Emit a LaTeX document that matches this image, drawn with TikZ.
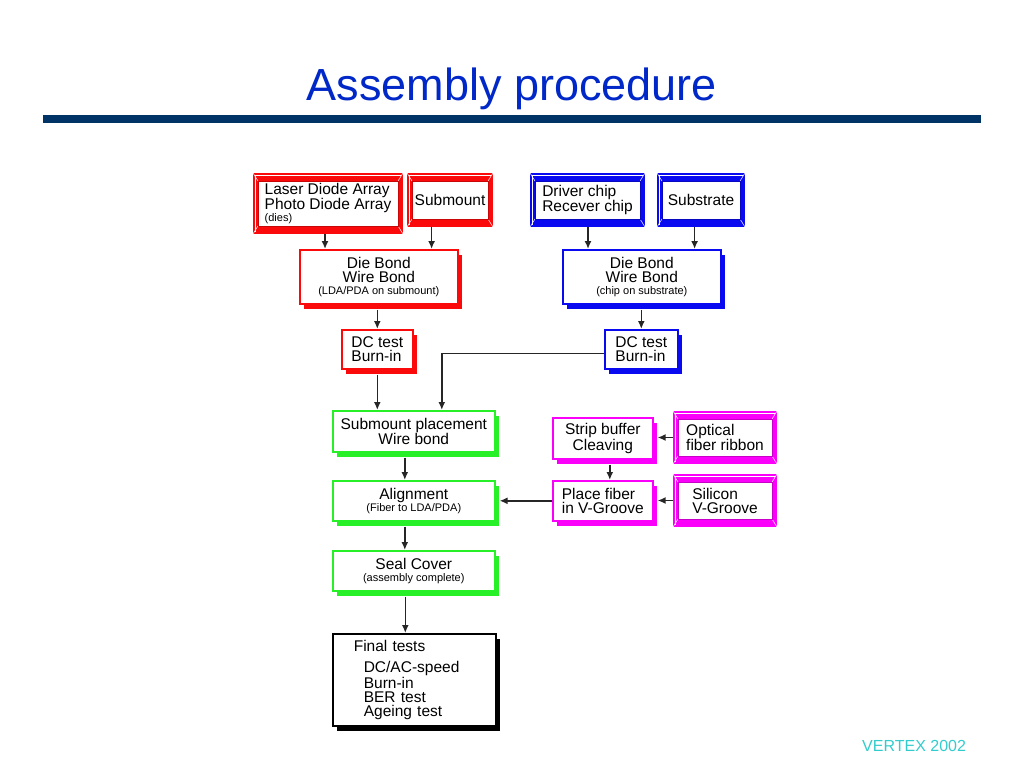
\documentclass[tikz,border=0pt]{standalone}
\usepackage{fontspec}
\setmainfont{Liberation Sans}
\usetikzlibrary{shadows,backgrounds,arrows.meta,positioning}
\definecolor{titleblue}{RGB}{0,40,200}
\definecolor{barblue}{RGB}{0,51,102}
\definecolor{vertex}{RGB}{51,204,204}
\definecolor{fgreen}{RGB}{40,240,40}
\definecolor{fblue}{RGB}{10,10,240}
\definecolor{fred}{RGB}{250,10,10}
\definecolor{fmag}{RGB}{250,0,250}
\newcommand{\boxfont}{\fontsize{15.5}{14}\selectfont}
\newcommand{\smalltxt}{\fontsize{11}{12}\selectfont}
\begin{document}
\begin{tikzpicture}[x=1pt,y=-1pt,
  proc/.style={draw=#1, line width=1.6pt, fill=white, anchor=north west, align=center, inner sep=2pt, font=\boxfont,
    drop shadow={shadow xshift=4pt, shadow yshift=-5pt, fill=#1, opacity=1}},
  part/.style={draw=#1!80!black, line width=0.6pt, fill=white, anchor=north west, align=left, inner sep=2pt, font=\boxfont, outer xsep=5pt, outer ysep=8pt},
  wh/.style 2 args={minimum width=#1pt, minimum height=#2pt},
  arr/.style={->, >={Latex[length=8pt,width=7pt]}, line width=1.6pt, black!85},
  arrs/.style={arr, shorten <=5pt}]
\useasboundingbox (0,0) rectangle (1024,768);
\node[font=\fontsize{45}{45}\selectfont, text=titleblue, anchor=base] (title) at (512,100) {Assembly procedure};
\fill[barblue] (43,115) rectangle (981,123);
\node[font=\fontsize{16}{16}\selectfont, text=vertex, anchor=base west, inner sep=0pt] (foot) at (862,751) {VERTEX 2002};
\node[part=fred, wh={140}{38}] (lda) at (253,173) {Laser Diode Array\\Photo Diode Array\\[-2pt]{\smalltxt (dies)}};
\node[part=fred, wh={76}{38}] (sub) at (407,173) {Submount};
\node[part=fblue, wh={105}{38}] (drv) at (530,173) {Driver chip\\Recever chip};
\node[part=fblue, wh={78}{38}] (sst) at (657,173) {Substrate};
\node[part=fmag, wh={94}{37}] (ofr) at (673,411) {Optical\\fiber ribbon};
\node[part=fmag, wh={94}{37}] (svg) at (673,474) {Silicon\\V-Groove};
\node[proc=fred, wh={158}{54}] (dbr) at (299,249) {Die Bond\\Wire Bond\\[-2pt]{\smalltxt (LDA/PDA on submount)}};
\node[proc=fblue, wh={158}{54}] (dbb) at (562,249) {Die Bond\\Wire Bond\\[-2pt]{\smalltxt (chip on substrate)}};
\node[proc=fred, wh={71}{39}, align=left] (dcr) at (341,329) {DC test\\Burn-in};
\node[proc=fblue, wh={73}{39}, align=left] (dcb) at (604,329) {DC test\\Burn-in};
\node[proc=fgreen, wh={162}{41}] (smp) at (332,410) {Submount placement\\Wire bond};
\node[proc=fgreen, wh={162}{40}] (aln) at (332,480) {Alignment\\[-2pt]{\smalltxt (Fiber to LDA/PDA)}};
\node[proc=fgreen, wh={162}{40}] (scv) at (332,550) {Seal Cover\\[-2pt]{\smalltxt (assembly complete)}};
\node[proc=black, wh={163}{92}, align=left, text width=121pt, inner xsep=21pt] (fin) at (332,633) {Final tests\\[7pt]\hspace*{10pt}DC/AC-speed\\\hspace*{10pt}Burn-in\\\hspace*{10pt}BER test\\\hspace*{10pt}Ageing test};
\node[proc=fmag, wh={100}{41}] (stb) at (552,417) {Strip buffer\\Cleaving};
\node[proc=fmag, wh={100}{40}, align=left] (plf) at (552,480) {Place fiber\\in V-Groove};
\begin{scope}[on background layer]
\fill[white] (0,0) rectangle (1024,768);
\foreach \n/\c in {lda/fred,sub/fred,drv/fblue,sst/fblue,ofr/fmag,svg/fmag}{
  \fill[\c] (\n.north west) rectangle (\n.south east);
  \draw[white, line width=0.6pt] ([shift={(2,-2)}]\n.south west) -- ([shift={(2,2)}]\n.north west) -- ([shift={(-2,2)}]\n.north east);
  \draw[white, line width=0.5pt] (\n.north west) -- ([shift={(5,8)}]\n.north west)
    (\n.north east) -- ([shift={(-5,8)}]\n.north east)
    (\n.south west) -- ([shift={(5,-8)}]\n.south west)
    (\n.south east) -- ([shift={(-5,-8)}]\n.south east);
}
\end{scope}
\foreach \db/\pl/\pr in {dbr/lda/sub,dbb/drv/sst}{
  \draw[arr] ([xshift=26pt]\db.north west |- \pl.south) -- ([xshift=26pt]\db.north west);
  \draw[arr] ([xshift=-27pt]\db.north east |- \pr.south) -- ([xshift=-27pt]\db.north east);
}
\draw[arrs] (dcr.north |- dbr.south) -- (dcr.north);
\draw[arrs] (dcb.north |- dbb.south) -- (dcb.north);
\draw[arrs] (dcr.south) -- (dcr.south |- smp.north);
\draw[arr] ([yshift=-4pt]dcb.west) -| ([xshift=28pt]smp.north);
\foreach \up/\dn in {smp/aln,aln/scv,scv/fin}
  \draw[arrs] ([xshift=-9pt]\dn.north |- \up.south) -- ([xshift=-9pt]\dn.north);
\draw[arrs] ([xshift=7pt]stb.south) -- ([xshift=7pt]plf.north);
\draw[arr, shorten >=4pt] (ofr.west) -- (ofr.west -| stb.east);
\draw[arr, shorten >=4pt] (svg.west) -- (svg.west -| plf.east);
\draw[arr, shorten >=4pt] (plf.west) -- (plf.west -| aln.east);
\end{tikzpicture}
\end{document}
